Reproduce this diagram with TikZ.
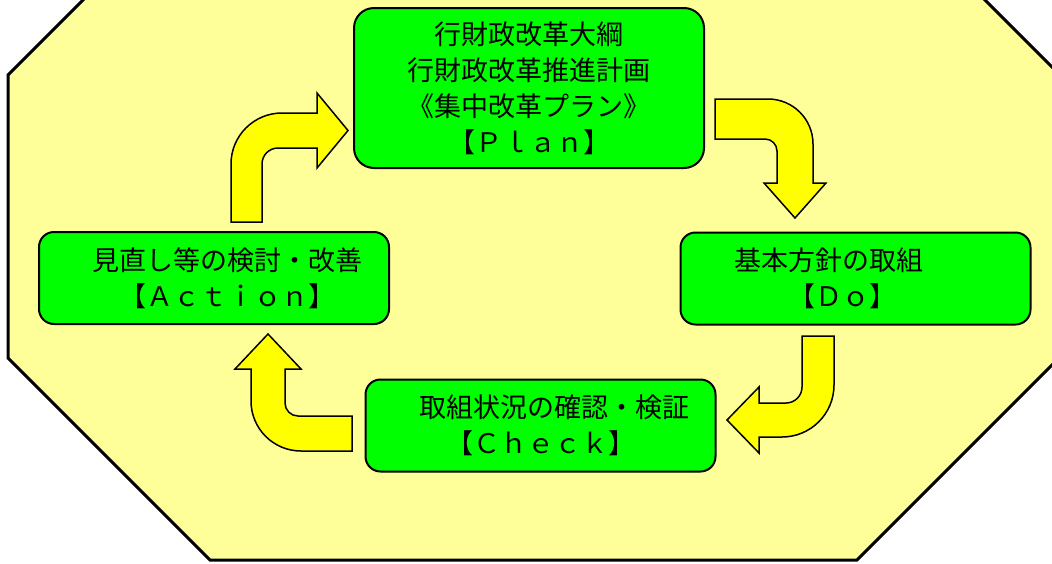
\documentclass[tikz,border=0pt]{standalone}
\usepackage{fontspec}
\newfontfamily\jp{Noto Sans CJK JP}
\usepackage{tikz}
\definecolor{paleyellow}{RGB}{255,255,153}
\definecolor{boxgreen}{RGB}{0,255,0}
\definecolor{turnyellow}{RGB}{255,255,0}

\begin{document}
\begin{tikzpicture}[x=1pt,y=-1pt,
    stage/.style={draw,line width=2pt,fill=boxgreen,rounded corners=15pt,
      minimum width=350pt,minimum height=92pt,inner sep=0pt,
      font=\jp\fontsize{27}{36}\selectfont},
    turn/.style={draw,line width=1.5pt,fill=turnyellow}]
        \useasboundingbox (0,0) rectangle (1052,563);
        \begin{scope}
          \clip (0,0) rectangle (1052,563);
          \draw [line width=3pt,fill=paleyellow] (210,-127) -- (858,-127) -- (1059,74) -- (1059,358)
            -- (857,560) -- (210,560) -- (8,358) -- (8,75) -- cycle;
        \end{scope}
        \node [stage,align=center,minimum height=160pt,rounded corners=20pt] (plan) at (529,88)
          {行財政改革大綱\\行財政改革推進計画\\《集中改革プラン》\\【Ｐｌａｎ】};
        \node [stage,align=left] (do) at (855.5,278.5) {基本方針の取組　　\\　　【Ｄｏ】};
        \node [stage,align=left] (check) at (540.5,425.5) {　取組状況の確認・検証\\　　【Ｃｈｅｃｋ】};
        \node [stage,align=left] (act) at (214,278) {　見直し等の検討・改善\\　　【Ａｃｔｉｏｎ】};
        \draw [turn] (231,222) -- (231,164) arc (180:270:51) -- (317,113) -- (317,93) -- (348,130.5)
          -- (317,168) -- (317,148) -- (278,148) arc (270:180:16) -- (262,222) -- cycle;
        \draw [turn] (715,99) -- (768,99) arc (270:360:45) -- (813,183) -- (826,183) -- (795,218)
          -- (764,183) -- (777,183) -- (777,151) arc (0:-90:12) -- (715,139) -- cycle;
        \draw [turn] (802,336) -- (834,336) -- (834,385) arc (0:90:52) -- (759,437) -- (759,453)
          -- (727,420) -- (759,387) -- (759,403) -- (786,403) arc (90:0:16) -- cycle;
        \draw [turn] (352,416) -- (352,451) -- (301,451) arc (90:180:50) -- (251,369) -- (235,369)
          -- (268,334) -- (301,369) -- (285,369) -- (285,403) arc (180:90:13) -- cycle;
\end{tikzpicture}
\end{document}
